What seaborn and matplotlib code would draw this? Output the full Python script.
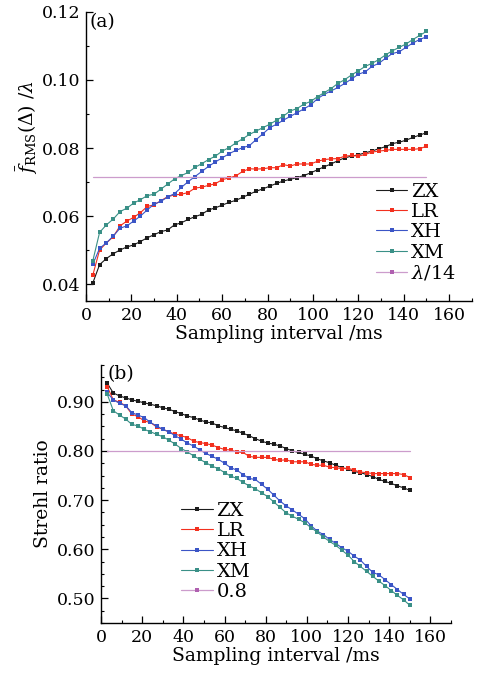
import matplotlib
matplotlib.use("Agg")
import matplotlib.pyplot as plt
from matplotlib.lines import Line2D
from matplotlib.ticker import MultipleLocator, FormatStrFormatter
import pandas as pd
import seaborn as sns

# Sampling intervals (ms)
interval_ms = list(range(3, 151, 3))

# (a) mean RMS wavefront residual, in units of wavelength
zx_rms = [0.0403, 0.0457, 0.0475, 0.0489, 0.0500, 0.0509, 0.0515, 0.0525, 0.0536, 0.0545,
          0.0554, 0.0559, 0.0574, 0.0580, 0.0590, 0.0598, 0.0605, 0.0618, 0.0624, 0.0632,
          0.0640, 0.0646, 0.0655, 0.0664, 0.0673, 0.0680, 0.0688, 0.0696, 0.0703, 0.0708,
          0.0713, 0.0719, 0.0727, 0.0736, 0.0745, 0.0753, 0.0763, 0.0771, 0.0776, 0.0780,
          0.0786, 0.0791, 0.0798, 0.0804, 0.0813, 0.0817, 0.0823, 0.0831, 0.0838, 0.0845]
lr_rms = [0.0426, 0.0500, 0.0521, 0.0539, 0.0571, 0.0585, 0.0596, 0.0610, 0.0628, 0.0633,
          0.0645, 0.0657, 0.0662, 0.0664, 0.0669, 0.0682, 0.0685, 0.0690, 0.0695, 0.0707,
          0.0712, 0.0718, 0.0731, 0.0739, 0.0738, 0.0739, 0.0742, 0.0742, 0.0751, 0.0747,
          0.0753, 0.0753, 0.0753, 0.0761, 0.0766, 0.0768, 0.0769, 0.0776, 0.0778, 0.0776,
          0.0781, 0.0788, 0.0791, 0.0793, 0.0796, 0.0796, 0.0796, 0.0796, 0.0798, 0.0805]
xh_rms = [0.0458, 0.0505, 0.0521, 0.0541, 0.0564, 0.0571, 0.0585, 0.0600, 0.0618, 0.0635,
          0.0643, 0.0656, 0.0666, 0.0684, 0.0701, 0.0716, 0.0731, 0.0746, 0.0759, 0.0771,
          0.0783, 0.0793, 0.0801, 0.0807, 0.0825, 0.0842, 0.0860, 0.0870, 0.0882, 0.0893,
          0.0904, 0.0915, 0.0927, 0.0945, 0.0958, 0.0968, 0.0978, 0.0990, 0.1003, 0.1017,
          0.1024, 0.1040, 0.1049, 0.1064, 0.1078, 0.1083, 0.1096, 0.1109, 0.1119, 0.1127]
xm_rms = [0.0468, 0.0552, 0.0574, 0.0591, 0.0613, 0.0623, 0.0638, 0.0648, 0.0660, 0.0664,
          0.0679, 0.0694, 0.0709, 0.0719, 0.0728, 0.0743, 0.0754, 0.0766, 0.0776, 0.0791,
          0.0801, 0.0815, 0.0827, 0.0840, 0.0850, 0.0860, 0.0870, 0.0882, 0.0894, 0.0909,
          0.0916, 0.0929, 0.0937, 0.0951, 0.0963, 0.0975, 0.0990, 0.1001, 0.1015, 0.1027,
          0.1040, 0.1049, 0.1060, 0.1074, 0.1086, 0.1096, 0.1106, 0.1119, 0.1131, 0.1143]
rms_limit = 1 / 14

# (b) Strehl ratio
zx_sr = [0.938, 0.918, 0.912, 0.908, 0.904, 0.901, 0.898, 0.895, 0.892, 0.888,
         0.885, 0.880, 0.876, 0.871, 0.868, 0.863, 0.859, 0.857, 0.851, 0.848,
         0.844, 0.841, 0.836, 0.831, 0.825, 0.820, 0.816, 0.814, 0.810, 0.805,
         0.800, 0.797, 0.793, 0.790, 0.784, 0.780, 0.776, 0.771, 0.766, 0.763,
         0.758, 0.756, 0.752, 0.748, 0.742, 0.738, 0.734, 0.729, 0.725, 0.720]
lr_sr = [0.931, 0.904, 0.899, 0.892, 0.875, 0.870, 0.861, 0.858, 0.849, 0.844,
         0.839, 0.834, 0.831, 0.827, 0.820, 0.817, 0.815, 0.812, 0.807, 0.803,
         0.802, 0.798, 0.797, 0.789, 0.787, 0.787, 0.787, 0.783, 0.781, 0.782,
         0.778, 0.778, 0.778, 0.773, 0.771, 0.771, 0.767, 0.766, 0.764, 0.765,
         0.761, 0.757, 0.756, 0.754, 0.754, 0.754, 0.754, 0.754, 0.752, 0.746]
xh_sr = [0.919, 0.904, 0.897, 0.892, 0.878, 0.873, 0.868, 0.858, 0.851, 0.844,
         0.839, 0.831, 0.824, 0.816, 0.810, 0.802, 0.795, 0.789, 0.783, 0.775,
         0.766, 0.761, 0.752, 0.744, 0.742, 0.732, 0.722, 0.710, 0.698, 0.688,
         0.680, 0.671, 0.662, 0.648, 0.637, 0.630, 0.620, 0.612, 0.603, 0.596,
         0.586, 0.578, 0.565, 0.553, 0.548, 0.538, 0.528, 0.518, 0.508, 0.499]
xm_sr = [0.916, 0.882, 0.873, 0.865, 0.854, 0.851, 0.844, 0.839, 0.834, 0.829,
         0.822, 0.814, 0.805, 0.798, 0.790, 0.783, 0.776, 0.769, 0.764, 0.756,
         0.749, 0.744, 0.736, 0.729, 0.723, 0.715, 0.707, 0.696, 0.685, 0.674,
         0.667, 0.661, 0.654, 0.644, 0.635, 0.625, 0.616, 0.608, 0.598, 0.588,
         0.575, 0.565, 0.555, 0.545, 0.535, 0.526, 0.516, 0.506, 0.497, 0.486]
sr_limit = 0.8

methods = ["ZX", "LR", "XH", "XM"]
colors = {"ZX": "#1c1c1c", "LR": "#f2301f", "XH": "#3b55c6", "XM": "#3a9087"}
limit_color = "#cc9ccc"
limit_marker_color = "#b060b0"

sns.set_theme(style="ticks")
plt.rcParams["font.family"] = ["DejaVu Serif"]
plt.rcParams["mathtext.fontset"] = "dejavuserif"
plt.rcParams.update({
    "xtick.direction": "in", "ytick.direction": "in",
    "xtick.major.size": 5, "ytick.major.size": 5,
    "xtick.minor.size": 2.5, "ytick.minor.size": 2.5,
    "xtick.major.width": 0.9, "ytick.major.width": 0.9,
    "xtick.minor.width": 0.8, "ytick.minor.width": 0.8,
    "axes.linewidth": 1.0, "axes.edgecolor": "black",
    "xtick.color": "black", "ytick.color": "black",
    "text.color": "black", "axes.labelcolor": "black",
})

MARKER_SIZE = 2.4


def long_frame(series):
    rows = []
    for name, vals in zip(methods, series):
        for x, v in zip(interval_ms, vals):
            rows.append({"interval": x, "value": v, "method": name})
    return pd.DataFrame(rows)


def draw_panel(ax, series, limit, limit_label):
    df = long_frame(series)
    sns.lineplot(data=df, x="interval", y="value", hue="method", hue_order=methods,
                 palette=colors, marker="s", markersize=MARKER_SIZE, markeredgewidth=0,
                 linewidth=0.8, legend=False, ax=ax)
    ax.plot([interval_ms[0], interval_ms[-1]], [limit, limit], color=limit_color, lw=0.9)
    handles = [Line2D([], [], color=colors[m], marker="s", markersize=MARKER_SIZE,
                      markeredgewidth=0, lw=0.8) for m in methods]
    handles.append(Line2D([], [], color=limit_color, marker="s", markersize=MARKER_SIZE,
                          markerfacecolor=limit_marker_color, markeredgewidth=0, lw=0.9))
    labels = methods + [limit_label]
    sns.despine(ax=ax)
    ax.set_xlim(0, 170)
    ax.xaxis.set_major_locator(MultipleLocator(20))
    ax.xaxis.set_minor_locator(MultipleLocator(10))
    ax.tick_params(axis="both", which="major", labelsize=12.5, pad=4)
    ax.set_xlabel("Sampling interval /ms", fontsize=13.5, labelpad=1)
    return handles, labels


fig = plt.figure(figsize=(4.82, 6.74), dpi=100)
ax_a = fig.add_axes([0.1784, 0.5534, 0.8006, 0.4288])
ax_b = fig.add_axes([0.2095, 0.0757, 0.7262, 0.3828])

# (a) RMS residual
h, l = draw_panel(ax_a, [zx_rms, lr_rms, xh_rms, xm_rms], rms_limit, r"$\lambda$/14")
ax_a.set_ylim(0.035, 0.12)
ax_a.yaxis.set_major_locator(MultipleLocator(0.02))
ax_a.yaxis.set_minor_locator(MultipleLocator(0.01))
ax_a.yaxis.set_major_formatter(FormatStrFormatter("%.2f"))
ax_a.set_ylabel(r"$\bar{f}_{\mathrm{RMS}}(\mathit{\Delta})\ /\lambda$", fontsize=13.5)
ax_a.yaxis.set_label_coords(-0.12, 0.6)
ax_a.legend(h, l, loc="upper left", bbox_to_anchor=(0.752, 0.41), frameon=False,
            fontsize=14, handlelength=1.6, handletextpad=0.2, labelspacing=0.12,
            borderpad=0, borderaxespad=0)
ax_a.text(0.008, 0.995, "(a)", transform=ax_a.transAxes, fontsize=13.5,
          ha="left", va="top")

# (b) Strehl ratio
h, l = draw_panel(ax_b, [zx_sr, lr_sr, xh_sr, xm_sr], sr_limit, "0.8")
ax_b.set_ylim(0.45, 0.975)
ax_b.yaxis.set_major_locator(MultipleLocator(0.1))
ax_b.yaxis.set_minor_locator(MultipleLocator(0.025))
ax_b.yaxis.set_major_formatter(FormatStrFormatter("%.2f"))
ax_b.set_ylabel("Strehl ratio", fontsize=13.5)
ax_b.yaxis.set_label_coords(-0.14, 0.5)
ax_b.legend(h, l, loc="upper left", bbox_to_anchor=(0.23, 0.47), frameon=False,
            fontsize=14, handlelength=1.6, handletextpad=0.2, labelspacing=0.12,
            borderpad=0, borderaxespad=0)
ax_b.text(0.02, 1.0, "(b)", transform=ax_b.transAxes, fontsize=13.5,
          ha="left", va="top")

fig.savefig("out.png", dpi=100, facecolor="white")
